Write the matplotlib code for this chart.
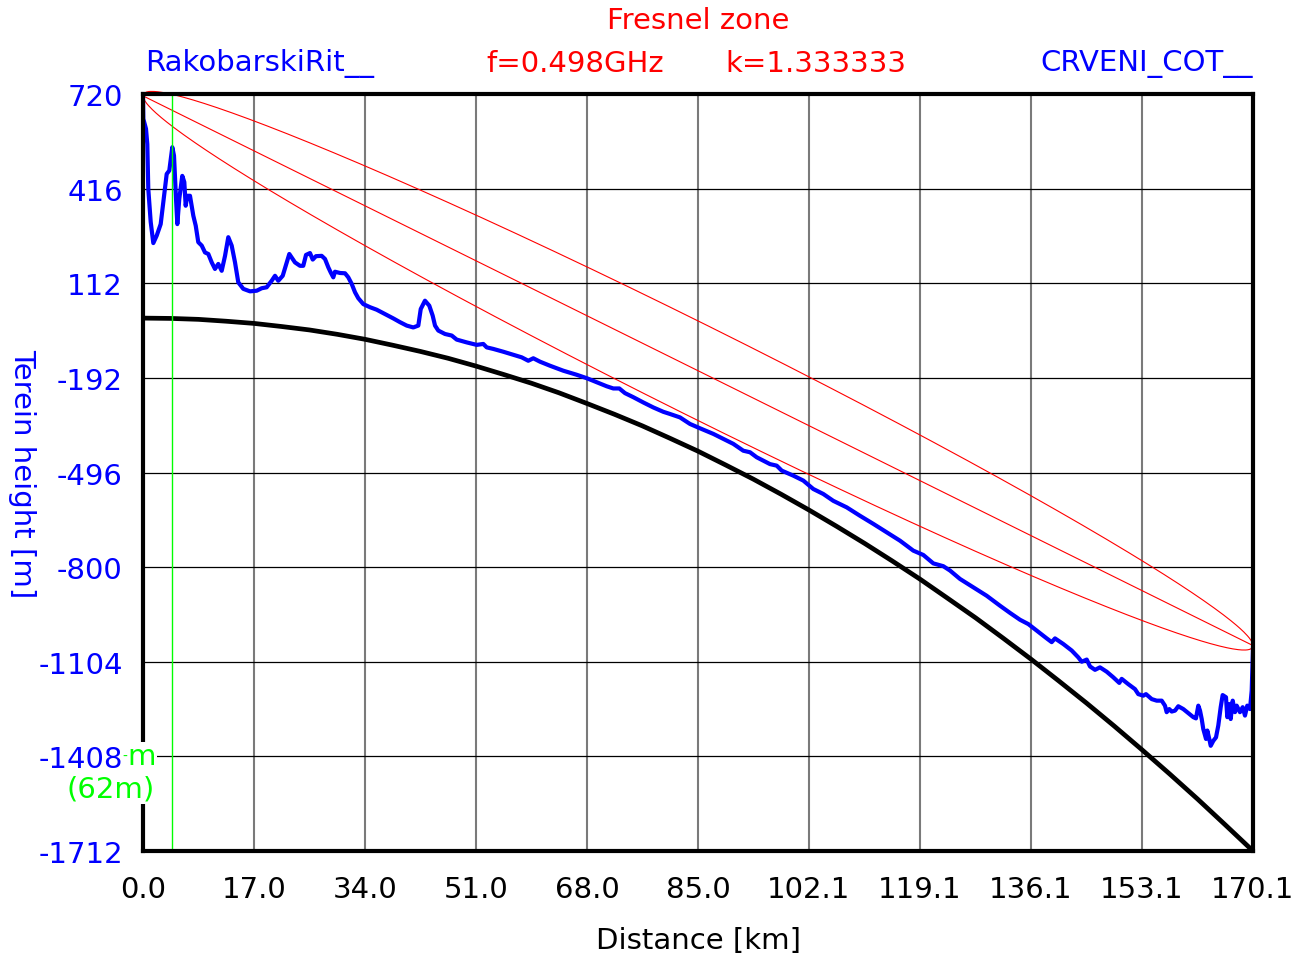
import numpy as np
import matplotlib
matplotlib.use("Agg")
import matplotlib.pyplot as plt
from matplotlib.patches import Rectangle

plt.rcParams["font.family"] = ["DejaVu Sans"]
FS = 21

# terrain profile (distance km, height m incl. earth bulge)
terrain_km = [0.0, 0.05, 0.46, 0.66, 0.81, 1.18, 1.58, 2.10, 2.71, 3.11, 3.63, 4.03, 4.49, 4.75,
              5.06, 5.26, 5.56, 6.02, 6.33, 6.54, 6.79, 7.20, 7.71, 8.08, 8.47, 9.00, 9.50, 10.01,
              10.53, 11.03, 11.54, 12.06, 12.57, 13.07, 13.59, 14.10, 14.60, 15.37, 16.40, 17.42,
              18.19, 18.95, 19.72, 20.23, 20.73, 21.41, 22.02, 22.42, 22.94, 23.29, 24.06, 24.56,
              24.98, 25.59, 26.01, 26.51, 27.38, 27.89, 28.40, 28.76, 29.16, 29.42, 30.19, 30.96,
              31.46, 31.98, 32.49, 32.99, 33.76, 34.79, 35.81, 37.08, 38.36, 39.38, 40.41, 41.42,
              42.19, 42.56, 43.21, 43.87, 44.39, 44.75, 45.25, 46.28, 47.31, 48.07, 49.60, 51.14,
              52.15, 52.67, 53.68, 55.21, 56.75, 58.03, 59.04, 59.81, 60.84, 62.37, 64.41, 66.46,
              68.00, 69.53, 71.06, 72.07, 72.99, 73.86, 75.13, 76.67, 78.20, 79.73, 80.76, 82.29,
              83.82, 85.36, 87.40, 88.93, 90.46, 91.99, 93.02, 94.04, 96.08, 97.11, 97.88, 99.65,
              101.19, 102.72, 104.25, 105.78, 107.84, 109.87, 111.91, 113.97, 116.00, 118.04,
              119.58, 121.11, 122.64, 123.67, 125.20, 127.24, 129.29, 131.33, 132.86, 134.39,
              135.67, 136.95, 138.49, 139.25, 139.76, 141.03, 142.32, 143.33, 143.85, 144.62,
              145.12, 145.89, 146.65, 147.68, 148.69, 149.61, 149.98, 150.99, 152.02, 152.52,
              153.29, 153.70, 154.58, 155.34, 156.11, 156.61, 156.87, 157.27, 157.64, 158.15,
              158.65, 159.42, 160.19, 160.95, 161.36, 161.72, 161.98, 162.24, 162.48, 162.90,
              163.10, 163.40, 163.62, 164.02, 164.43, 164.78, 165.15, 165.45, 165.96, 166.16,
              166.47, 166.68, 166.99, 167.34, 167.60, 168.10, 168.52, 168.87, 169.22, 169.64,
              169.90, 170.10]
terrain_m = [714, 640, 608, 559, 415, 309, 241, 265, 302, 373, 463, 474, 549, 522,
             383, 302, 383, 457, 437, 361, 393, 393, 329, 297, 244, 233, 211, 206,
             179, 158, 174, 152, 200, 260, 233, 179, 115, 94, 86, 88,
             96, 99, 120, 136, 120, 136, 179, 206, 190, 179, 168, 168,
             203, 209, 188, 199, 200, 190, 163, 147, 131, 149, 145, 144,
             131, 110, 83, 64, 45, 35, 27, 13, -1, -13, -24, -30,
             -24, 29, 56, 40, 8, -24, -40, -51, -56, -69, -78, -86,
             -83, -94, -99, -108, -118, -126, -137, -129, -140, -153, -169, -182,
             -193, -206, -219, -226, -226, -241, -254, -271, -287, -301, -308, -319,
             -340, -354, -372, -388, -404, -426, -431, -447, -469, -474, -490, -506,
             -522, -549, -565, -587, -608, -635, -661, -688, -715, -747,
             -761, -788, -797, -811, -838, -865, -892, -924, -947, -969,
             -983, -1004, -1029, -1041, -1029, -1047, -1068, -1090, -1104, -1097,
             -1119, -1130, -1122, -1136, -1154, -1172, -1159, -1176, -1192, -1208,
             -1213, -1208, -1224, -1229, -1229, -1245, -1266, -1256, -1264, -1261,
             -1247, -1256, -1269, -1282, -1286, -1245, -1261, -1288, -1320, -1352,
             -1325, -1352, -1374, -1358, -1347, -1309, -1250, -1211, -1218, -1282,
             -1240, -1288, -1229, -1266, -1245, -1266, -1250, -1277, -1245, -1256,
             -1197, -1063]

# earth bulge reference curve
bulge_km = [0.0, 4.25, 8.5, 12.75, 17.0, 21.25, 25.5, 29.75, 34.0, 38.25, 42.5, 46.75, 51.0,
            55.25, 59.5, 63.75, 68.0, 72.25, 76.5, 80.75, 85.0, 89.3, 93.5, 97.8, 102.1, 106.3,
            110.6, 114.8, 119.1, 123.3, 127.6, 131.8, 136.1, 140.3, 144.6, 148.8, 153.1, 157.3,
            161.6, 165.8, 170.1]
bulge_m = [0, -1, -4, -10, -17, -27, -38, -52, -68, -87, -107, -129, -154,
           -181, -209, -240, -274, -309, -346, -386, -427, -472, -517, -566, -617, -669,
           -724, -780, -839, -900, -963, -1028, -1096, -1165, -1237, -1310, -1387, -1464,
           -1545, -1627, -1712]

# link parameters
path_km = 170.1
freq_ghz = 0.498
tx_top_m = 714
rx_top_m = -1052
cursor_km = 4.5

xticks = [0.0, 17.01, 34.02, 51.03, 68.04, 85.05, 102.06, 119.07, 136.08, 153.09, 170.1]
xtick_labels = ["0.0", "17.0", "34.0", "51.0", "68.0", "85.0", "102.1", "119.1", "136.1", "153.1", "170.1"]
yticks = [720, 416, 112, -192, -496, -800, -1104, -1408, -1712]

W, H = 1308, 962
fig = plt.figure(figsize=(W / 100, H / 100), dpi=100)
ax = fig.add_axes([143 / W, 1 - 852 / H, (1253 - 143) / W, (852 - 95) / H])

ax.set_xlim(0, path_km)
ax.set_ylim(-1712, 720)

# grid: grey verticals, thin black horizontals
for x in xticks[1:-1]:
    ax.axvline(x, color="#7a7a7a", lw=1.5, zorder=1)
for y in yticks[1:-1]:
    ax.axhline(y, color="black", lw=0.9, zorder=1)

# line of sight and first Fresnel zone
d = np.linspace(0, path_km, 600)
los = tx_top_m + (rx_top_m - tx_top_m) * d / path_km
r = 17.32 * np.sqrt(d * (path_km - d) / (freq_ghz * path_km))
for curve in (los, los + r, los - r):
    ax.plot(d, curve, color="#ff0000", lw=0.8, zorder=2, clip_on=False)

ax.plot(bulge_km, bulge_m, color="black", lw=3.4, zorder=3)
ax.plot(terrain_km, terrain_m, color="#0000ff", lw=3.0, zorder=4)
ax.axvline(cursor_km, color="#00ff00", lw=1.0, zorder=5)

for s in ax.spines.values():
    s.set_linewidth(3)
    s.set_color("black")
    s.set_zorder(6)

ax.set_xticks(xticks)
ax.set_xticklabels(xtick_labels)
ax.set_yticks(yticks)
ax.set_yticklabels([str(v) for v in yticks])
ax.tick_params(axis="both", length=0, labelsize=FS)
ax.tick_params(axis="y", pad=14.5, labelcolor="#0000ff")
ax.tick_params(axis="x", pad=17, labelcolor="black")

ax.set_xlabel("Distance [km]", fontsize=FS, labelpad=17)
ax.set_ylabel("Terein height [m]", fontsize=FS, color="#0000ff", rotation=270)
ax.yaxis.label.set_va("center")
ax.yaxis.set_label_coords(-(143 - 22) / (1253 - 143), 0.5)

# cursor readout on the left axis
ax.add_patch(Rectangle((-0.006, 0.062), 0.019, 0.082, transform=ax.transAxes,
                       facecolor="white", edgecolor="none", zorder=7, clip_on=False))
fig.text(127 / W, 1 - 757 / H, "-", color="#00ff00", fontsize=10, ha="right", va="center")
fig.text(156 / W, 1 - 757 / H, "m", color="#00ff00", fontsize=FS, ha="right", va="center")
fig.text(155 / W, 1 - 790 / H, "(62m)", color="#00ff00", fontsize=FS, ha="right", va="center")

fig.text(698 / W, 1 - 21 / H, "Fresnel zone", color="#ff0000", fontsize=FS, ha="center", va="center")
fig.text(145 / W, 1 - 64 / H, "RakobarskiRit__", color="#0000ff", fontsize=FS, ha="left", va="center")
fig.text(486 / W, 1 - 64 / H, "f=0.498GHz", color="#ff0000", fontsize=FS, ha="left", va="center")
fig.text(725 / W, 1 - 64 / H, "k=1.333333", color="#ff0000", fontsize=FS, ha="left", va="center")
fig.text(1253 / W, 1 - 64 / H, "CRVENI_COT__", color="#0000ff", fontsize=FS, ha="right", va="center")

fig.savefig("out.png", dpi=100, facecolor="white")
